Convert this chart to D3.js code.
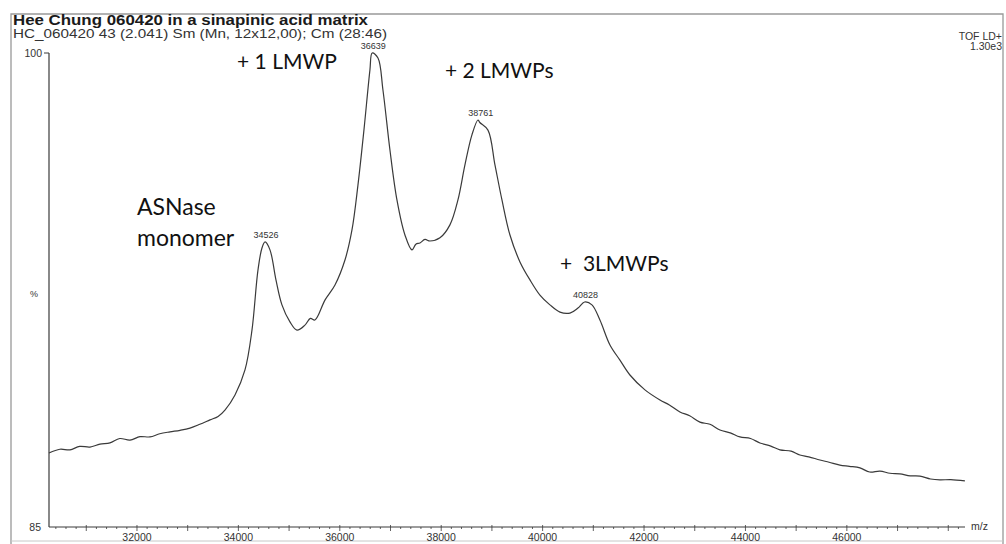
<!DOCTYPE html>
<html><head><meta charset="utf-8">
<script src="https://cdn.jsdelivr.net/npm/d3@7"></script>
<style>body{margin:0;background:#fff}svg{display:block}</style>
</head><body>
<script>
// m/z values of the trace
const mz = [30265,30480,30679,30870,31073,31270,31468,31660,31862,32060,32256,32450,32651,32850,33045,33240,33440,33600,33735,33933,34130,34268,34386,34465,34526,34623,34741,34859,35017,35155,35313,35420,35510,35707,35905,36102,36240,36358,36476,36594,36639,36753,36851,36989,37127,37285,37423,37500,37581,37680,37778,37975,38172,38330,38468,38606,38725,38761,38922,39060,39198,39356,39553,39750,39947,40144,40342,40539,40697,40828,40973,41130,41328,41525,41722,42018,42314,42500,42708,42900,43102,43300,43497,43700,43891,44100,44286,44500,44680,44900,45074,45250,45469,45650,45863,46050,46258,46450,46652,46850,47046,47250,47441,47650,47835,48050,48328];
// relative intensity (%)
const intensity = [87.34,87.46,87.44,87.55,87.53,87.62,87.66,87.80,87.75,87.86,87.85,87.95,88.01,88.06,88.13,88.25,88.39,88.50,88.70,89.18,89.97,91.23,93.13,93.83,94.02,93.77,92.82,92.03,91.49,91.23,91.39,91.60,91.55,92.18,92.66,93.45,94.40,95.82,97.56,99.46,100.0,99.84,98.83,96.93,95.35,94.24,93.77,93.95,93.99,94.10,94.05,94.15,94.56,95.35,96.46,97.41,97.88,97.80,97.56,96.46,95.35,94.24,93.39,92.82,92.34,92.03,91.80,91.77,91.93,92.12,92.03,91.55,90.76,90.28,89.81,89.34,89.02,88.86,88.64,88.52,88.32,88.25,88.07,87.98,87.85,87.80,87.66,87.56,87.44,87.40,87.28,87.22,87.12,87.05,86.96,86.92,86.87,86.74,86.77,86.70,86.68,86.62,86.61,86.52,86.49,86.50,86.46];
const xTicks = [32000,34000,36000,38000,40000,42000,44000,46000];
const yTickLabels = ["85","100"];
const peakLabels = [34526,36639,38761,40828];
const peakValues = [94.02,100.0,97.88,92.12];
const annotations = [
  {lines:["+ 1 LMWP"], mz:33973, v:99.48, size:21},
  {lines:["+ 2 LMWPs"], mz:38074, v:99.2, size:21},
  {lines:["ASNase","monomer"], mz:32000, v:94.88, size:23},
  {lines:["+\u00a0\u00a03LMWPs"], mz:40342, v:93.1, size:21}
];

const W=1006,H=544;
const svg=d3.select("body").append("svg").attr("width",W).attr("height",H);
const ink="#3a3a3a";
const font="Liberation Sans, Arial, sans-serif";
const x=d3.scaleLinear().domain([30265,48330]).range([49,965]);
const y=d3.scaleLinear().domain([85,100]).range([527,53]);

// scan frame
svg.append("path").attr("d","M11,544V14H1003V544").attr("fill","none").attr("stroke","#999").attr("stroke-width",1.3);
svg.append("line").attr("x1",11).attr("x2",1003).attr("y1",541).attr("y2",541).attr("stroke","#c8c8c8");

// header
svg.append("text").attr("x",13).attr("y",25).attr("font-family",font).attr("font-weight","bold").attr("font-size",14).attr("fill","#1a1a1a")
  .attr("textLength",355).attr("lengthAdjust","spacingAndGlyphs").text("Hee Chung 060420 in a sinapinic acid matrix");
svg.append("text").attr("x",13).attr("y",38).attr("font-family",font).attr("font-size",12).attr("fill","#333")
  .attr("textLength",374).attr("lengthAdjust","spacingAndGlyphs").text("HC_060420  43 (2.041) Sm (Mn, 12x12,00); Cm (28:46)");
svg.append("text").attr("x",1002).attr("y",40).attr("text-anchor","end").attr("font-family",font).attr("font-size",10.5).attr("fill","#333").text("TOF LD+");
svg.append("text").attr("x",1002).attr("y",50).attr("text-anchor","end").attr("font-family",font).attr("font-size",10.5).attr("fill","#333").text("1.30e3");

// y axis
svg.append("line").attr("x1",49).attr("x2",49).attr("y1",y(100)).attr("y2",y(85)).attr("stroke",ink).attr("stroke-width",1.2);
svg.append("line").attr("x1",44).attr("x2",49).attr("y1",y(100)).attr("y2",y(100)).attr("stroke",ink);
svg.append("text").attr("x",42).attr("y",y(100)+4).attr("text-anchor","end").attr("font-family",font).attr("font-size",10.5).attr("fill","#333").text(yTickLabels[1]);
svg.append("text").attr("x",41).attr("y",y(85)+4).attr("text-anchor","end").attr("font-family",font).attr("font-size",10.5).attr("fill","#333").text(yTickLabels[0]);
svg.append("text").attr("x",34).attr("y",y(92.4)+4).attr("text-anchor","middle").attr("font-family",font).attr("font-size",9).attr("fill","#333").text("%");

// x axis
const ax=svg.append("g").attr("transform",`translate(0,${y(85)})`);
ax.append("line").attr("x1",49).attr("x2",965).attr("stroke",ink).attr("stroke-width",1.1);
const minor=d3.range(30400,48400,200);
ax.selectAll("line.mn").data(minor).join("line").attr("class","mn")
  .attr("x1",d=>x(d)).attr("x2",d=>x(d)).attr("y1",d=>d%1000===0?-2:0).attr("y2",d=>d%1000===0?4:2).attr("stroke",ink).attr("stroke-width",0.8);
ax.selectAll("text").data(xTicks).join("text").attr("x",d=>x(d)).attr("y",14).attr("text-anchor","middle")
  .attr("font-family",font).attr("font-size",10.5).attr("fill","#333").text(d=>d);
svg.append("text").attr("x",971).attr("y",y(85)+3).attr("font-family",font).attr("font-size",10.5).attr("fill","#333").text("m/z");

// trace
const line=d3.line().x((d,i)=>x(mz[i])).y(d=>y(d)).curve(d3.curveCatmullRom.alpha(0.5));
svg.append("path").attr("d",line(intensity)).attr("fill","none").attr("stroke",ink).attr("stroke-width",1.2);

// peak labels
svg.selectAll("text.pk").data(peakLabels).join("text").attr("class","pk")
  .attr("x",d=>x(d)+1).attr("y",(d,i)=>y(peakValues[i])-4).attr("text-anchor","middle")
  .attr("font-family",font).attr("font-size",9).attr("fill","#333").text(d=>d);

// annotations
annotations.forEach(a=>{
  a.lines.forEach((t,j)=>{
    svg.append("text").attr("x",x(a.mz)).attr("y",y(a.v)+j*31).attr("font-family","Lato, Open Sans, sans-serif").attr("font-size",a.size).attr("fill","#111").text(t);
  });
});
</script>
</body></html>
